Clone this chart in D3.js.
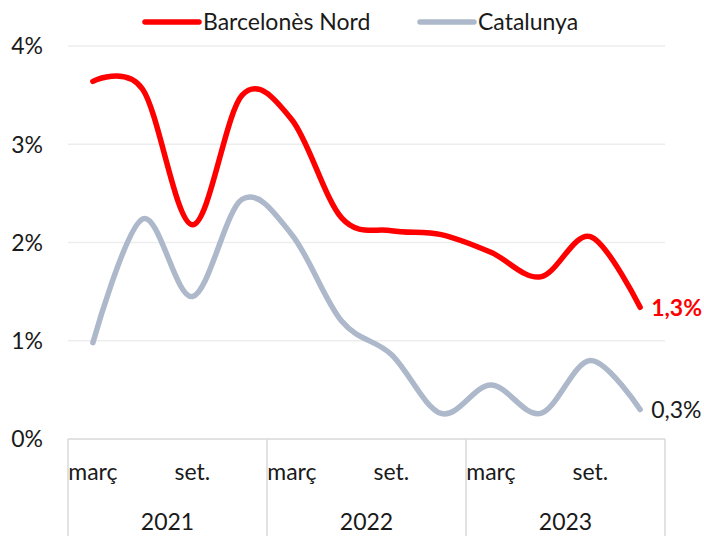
<!DOCTYPE html>
<html>
<head>
<meta charset="utf-8">
<script src="https://cdn.jsdelivr.net/npm/d3@7"></script>
<style>
  body { margin: 0; background: #fff; }
  text { font-family: Lato, "Open Sans", sans-serif; fill: #1a1a1a; }
</style>
</head>
<body>
<div id="chart"></div>
<script>
// quarterly values, 2021-2023
var years = ["2021", "2022", "2023"],
  months = ["març", "juny", "set.", "des."],
  shownMonths = ["març", "set."],
  yTicks = [0, 1, 2, 3, 4];

var barcelonesNord = [3.64, 3.56, 2.18, 3.50, 3.25, 2.25, 2.12, 2.08, 1.90, 1.65, 2.06, 1.34],
  catalunya = [0.98, 2.24, 1.45, 2.44, 2.08, 1.20, 0.86, 0.26, 0.55, 0.26, 0.80, 0.30];

var series = [
  { name: "Barcelonès Nord", values: barcelonesNord, color: "#ff0000", label: "1,3%", bold: true },
  { name: "Catalunya", values: catalunya, color: "#adb9ca", label: "0,3%", bold: false }
];

var svg_dx = 704, svg_dy = 536;
var margin = { top: 46, right: 39, bottom: 97, left: 68 };
var plot_right = svg_dx - margin.right,
  plot_bottom = svg_dy - margin.bottom;

// one category per quarter
var cats = [];
years.forEach(function(y) {
  months.forEach(function(m) { cats.push(y + "-" + m); });
});

var x = d3.scaleBand().domain(cats).range([margin.left, plot_right]);
var xYear = d3.scaleBand().domain(years).range([margin.left, plot_right]);
var y = d3.scaleLinear().domain([0, 4]).range([plot_bottom, margin.top]);

var svg = d3.select("#chart").append("svg")
  .attr("width", svg_dx)
  .attr("height", svg_dy);

// gridlines
svg.append("g").selectAll("line")
  .data(yTicks.filter(function(d) { return d > 0; }))
  .enter().append("line")
  .attr("x1", margin.left).attr("x2", plot_right)
  .attr("y1", function(d) { return y(d); })
  .attr("y2", function(d) { return y(d); })
  .attr("stroke", "#ededed")
  .attr("stroke-width", 1.5);

// y labels
svg.append("g").selectAll("text")
  .data(yTicks)
  .enter().append("text")
  .attr("x", 43)
  .attr("y", function(d) { return y(d); })
  .attr("dy", "0.36em")
  .attr("text-anchor", "end")
  .style("font-size", "23px")
  .text(function(d) { return d + "%"; });

// x axis: baseline + year separators
svg.append("line")
  .attr("x1", margin.left).attr("x2", plot_right)
  .attr("y1", plot_bottom).attr("y2", plot_bottom)
  .attr("stroke", "#d9d9d9").attr("stroke-width", 1.5);

var seps = years.map(function(d) { return xYear(d); }).concat([plot_right]);
svg.append("g").selectAll("line")
  .data(seps)
  .enter().append("line")
  .attr("x1", function(d) { return d; }).attr("x2", function(d) { return d; })
  .attr("y1", plot_bottom).attr("y2", svg_dy)
  .attr("stroke", "#d9d9d9").attr("stroke-width", 1.5);

// month labels (every other quarter)
svg.append("g").selectAll("text")
  .data(cats.filter(function(c) { return shownMonths.indexOf(c.split("-")[1]) >= 0; }))
  .enter().append("text")
  .attr("x", function(d) { return x(d) + x.bandwidth() / 2; })
  .attr("y", 480)
  .attr("text-anchor", "middle")
  .style("font-size", "23px")
  .text(function(d) { return d.split("-")[1]; });

// year labels
svg.append("g").selectAll("text")
  .data(years)
  .enter().append("text")
  .attr("x", function(d) { return xYear(d) + xYear.bandwidth() / 2; })
  .attr("y", 530)
  .attr("text-anchor", "middle")
  .style("font-size", "23px")
  .text(function(d) { return d; });

var line = d3.line()
  .curve(d3.curveCardinal.tension(0))
  .x(function(d, i) { return x(cats[i]) + x.bandwidth() / 2; })
  .y(function(d) { return y(d); });

// draw Catalunya first so red is on top
series.slice().reverse().forEach(function(s) {
  svg.append("path")
    .datum(s.values)
    .attr("fill", "none")
    .attr("stroke", s.color)
    .attr("stroke-width", 5.5)
    .attr("stroke-linecap", "round")
    .attr("stroke-linejoin", "round")
    .attr("d", line);

  var last = s.values.length - 1;
  svg.append("text")
    .attr("x", x(cats[last]) + x.bandwidth() / 2 + 11)
    .attr("y", y(s.values[last]))
    .attr("dy", "0.36em")
    .style("font-size", "23px")
    .style("font-weight", s.bold ? "bold" : "normal")
    .style("fill", s.bold ? s.color : "#1a1a1a")
    .text(s.label);
});

// legend
var legendX = [145, 420];
var legend = svg.append("g").selectAll("g")
  .data(series)
  .enter().append("g")
  .attr("transform", function(d, i) { return "translate(" + legendX[i] + ",22)"; });

legend.append("line")
  .attr("x1", 0).attr("x2", 54)
  .attr("stroke", function(d) { return d.color; })
  .attr("stroke-width", 5.5)
  .attr("stroke-linecap", "round");

legend.append("text")
  .attr("x", 58)
  .attr("dy", "0.36em")
  .style("font-size", "23px")
  .text(function(d) { return d.name; });
</script>
</body>
</html>
